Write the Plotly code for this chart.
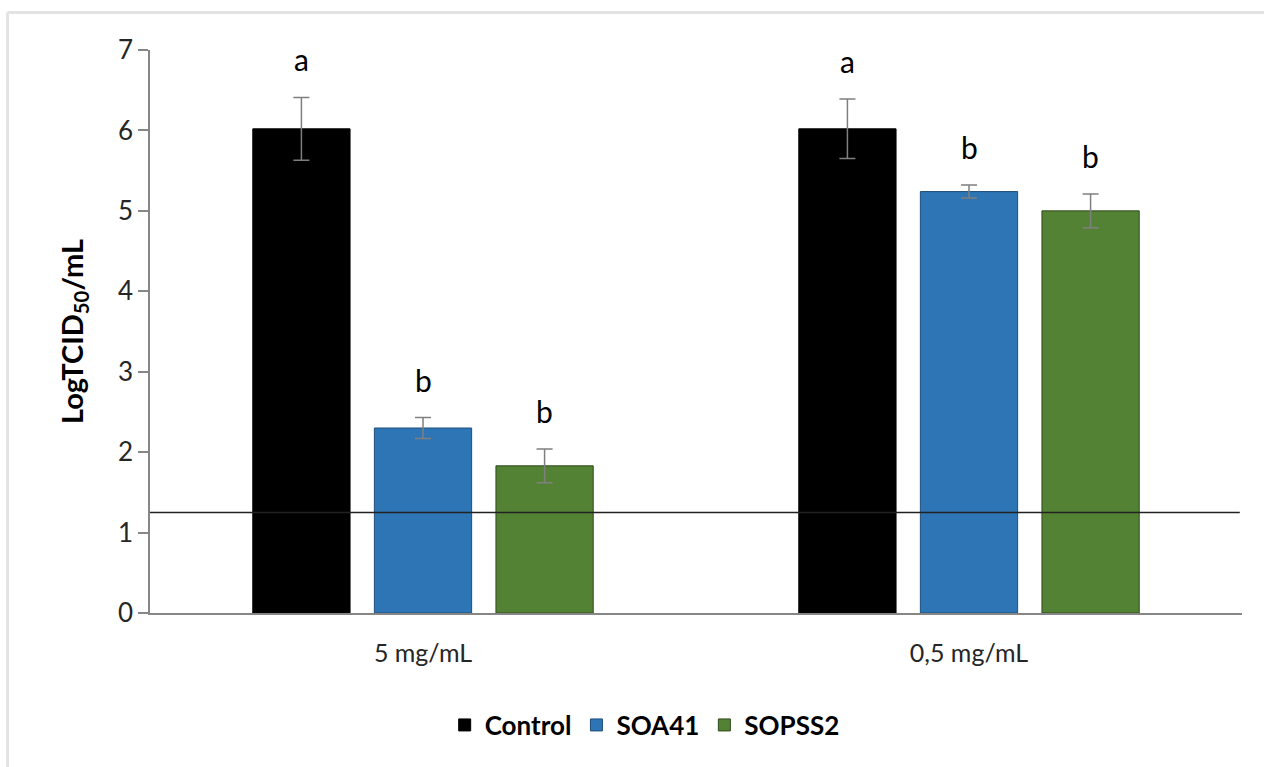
import plotly.graph_objects as go

categories = ["5 mg/mL", "0,5 mg/mL"]
series_names = ["Control", "SOA41", "SOPSS2"]
control_vals = [6.02, 6.02]
control_err = [0.39, 0.37]
soa41_vals = [2.30, 5.24]
soa41_err = [0.13, 0.08]
sopss2_vals = [1.83, 5.00]
sopss2_err = [0.21, 0.21]
control_letters = ["a", "a"]
soa41_letters = ["b", "b"]
sopss2_letters = ["b", "b"]
threshold = 1.25
y_ticks = [0, 1, 2, 3, 4, 5, 6, 7]

fills = ["#000000", "#2E75B6", "#548235"]
outlines = ["#000000", "#1F4E79", "#2F4A1C"]
FONT = "Lato, 'Open Sans', sans-serif"

vals = [control_vals, soa41_vals, sopss2_vals]
errs = [control_err, soa41_err, sopss2_err]
letters = [control_letters, soa41_letters, sopss2_letters]

fig = go.Figure()
for name, v, e, fc, oc in zip(series_names, vals, errs, fills, outlines):
    fig.add_trace(go.Bar(
        x=categories, y=v, name=name,
        marker=dict(color=fc, line=dict(color=oc, width=1)),
        error_y=dict(type="data", array=e, visible=True, color="#7F7F7F",
                     thickness=1.5, width=8),
    ))

# significance letters
slot = 0.2225
offsets = [-slot, 0, slot]
annotations = []
for k in range(3):
    for i, cat in enumerate(categories):
        annotations.append(dict(
            x=i + offsets[k], y=vals[k][i] + errs[k][i], xref="x", yref="y",
            text=letters[k][i], showarrow=False, yanchor="bottom", yshift=18,
            font=dict(family=FONT, size=30, color="#000000"),
        ))

shapes = [
    dict(type="line", xref="paper", yref="y", x0=0, x1=0.998, y0=threshold, y1=threshold,
         line=dict(color="#222222", width=1.5), layer="above"),
    # outer light frame
    dict(type="line", xref="paper", yref="paper", x0=-0.1305, x1=1.03, y0=1.0666, y1=1.0666,
         line=dict(color="#E3E3E3", width=3), layer="above"),
    dict(type="line", xref="paper", yref="paper", x0=-0.1305, x1=-0.1305, y0=1.0666, y1=-0.29,
         line=dict(color="#E3E3E3", width=3), layer="above"),
]

fig.update_layout(
    width=1264, height=767,
    margin=dict(l=150, r=22, t=50, b=154, autoexpand=False),
    paper_bgcolor="white", plot_bgcolor="white",
    barmode="group", bargap=0.332, bargroupgap=0.2,
    font=dict(family=FONT, color="#262626"),
    showlegend=True,
    legend=dict(orientation="h", x=0.453, y=-0.199, xanchor="center", yanchor="middle",
                font=dict(family=FONT, size=26, color="#000000", weight="bold"),
                itemwidth=30, traceorder="normal"),
    annotations=annotations,
    shapes=shapes,
)
fig.update_yaxes(
    range=[0, 7], tickvals=y_ticks, showgrid=False, zeroline=False,
    showline=True, linecolor="#868686", linewidth=1.5,
    ticks="outside", ticklen=10, tickcolor="#868686", tickwidth=1.5,
    tickfont=dict(family=FONT, size=26, color="#262626"),
    title=dict(text="LogTCID<sub>50</sub>/mL", standoff=26,
               font=dict(family=FONT, size=29, color="#000000", weight="bold")),
)
fig.update_xaxes(
    showgrid=False, showline=True, linecolor="#868686", linewidth=1.5,
    ticks="", tickfont=dict(family=FONT, size=25, color="#262626"),
    ticklabelstandoff=17,
)

fig.write_html("out.html")
